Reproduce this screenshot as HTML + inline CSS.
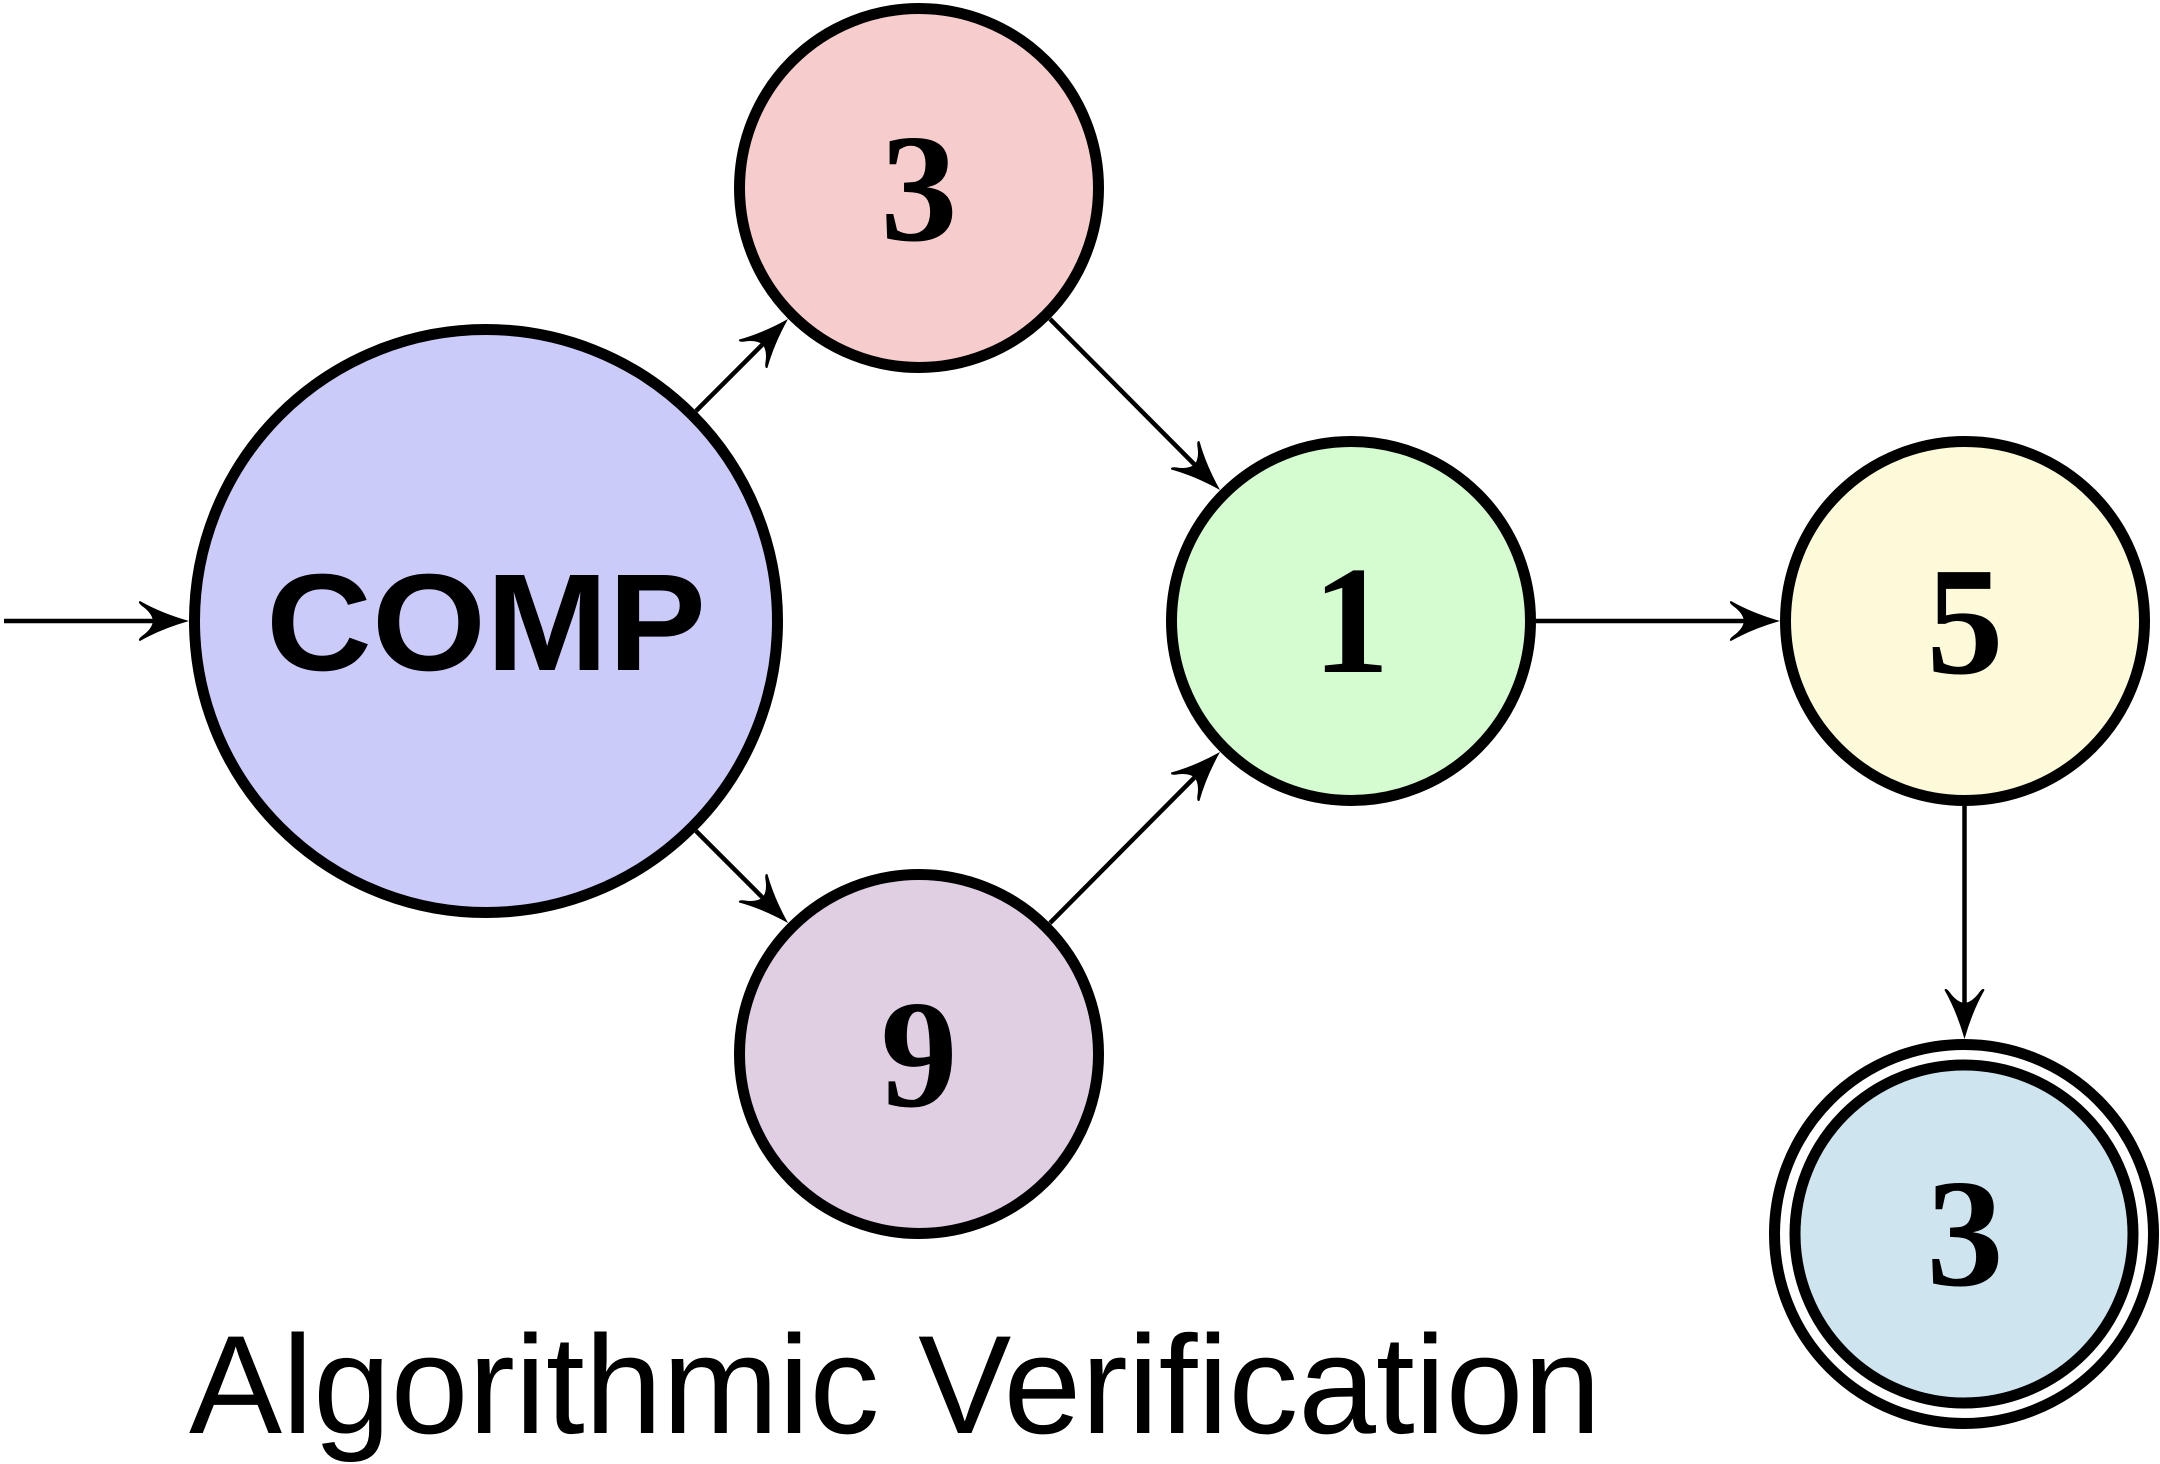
<!DOCTYPE html>
<html>
<head>
<meta charset="utf-8">
<style>
  html, body { margin: 0; padding: 0; background: #ffffff; }
  body { width: 2160px; height: 1464px; overflow: hidden; }
  svg { display: block; }
</style>
</head>
<body>
<svg xmlns="http://www.w3.org/2000/svg" width="2160" height="1464" viewBox="0 0 2160 1464">
  <defs>
    <path id="ah" d="M 0 0 Q -28 -8 -49 -20 Q -52 -19 -47 -15 Q -37 -8 -36 0 Q -37 8 -47 15 Q -52 19 -49 20 Q -28 8 0 0 Z" fill="#000"/>
  </defs>
  <rect width="2160" height="1464" fill="#ffffff"/>

  <!-- connector lines -->
  <g stroke="#000" stroke-width="4.5" fill="none">
    <line x1="4" y1="621" x2="155" y2="621"/>
    <line x1="696" y1="411" x2="763" y2="344"/>
    <line x1="696" y1="831" x2="763" y2="898"/>
    <line x1="1050" y1="319" x2="1195" y2="465"/>
    <line x1="1050" y1="923" x2="1195" y2="777"/>
    <line x1="1536" y1="621" x2="1746" y2="621"/>
    <line x1="1964.5" y1="806" x2="1964.5" y2="1005"/>
  </g>

  <!-- arrowheads -->
  <use href="#ah" transform="translate(189,621)"/>
  <use href="#ah" transform="translate(788,319) rotate(-45)"/>
  <use href="#ah" transform="translate(788,923) rotate(45)"/>
  <use href="#ah" transform="translate(1220,490) rotate(45)"/>
  <use href="#ah" transform="translate(1220,752) rotate(-45)"/>
  <use href="#ah" transform="translate(1780,621)"/>
  <use href="#ah" transform="translate(1964.5,1039) rotate(90)"/>

  <!-- nodes -->
  <g stroke="#000" stroke-width="11">
    <circle cx="486" cy="621" r="291.5" fill="#cbcbf9"/>
    <circle cx="919" cy="188" r="179.5" fill="#f6cccd"/>
    <circle cx="919" cy="1054" r="179.5" fill="#e0cfe3"/>
    <circle cx="1351" cy="621" r="179.5" fill="#d5fcd0"/>
    <circle cx="1965" cy="621" r="179.5" fill="#fdfada"/>
    <circle cx="1964" cy="1234" r="189.5" fill="#ffffff"/>
    <circle cx="1964" cy="1234" r="169" fill="#cee5ef"/>
  </g>

  <!-- labels -->
  <text x="486" y="670" font-family="'Liberation Sans', sans-serif" font-weight="bold" font-size="138" text-anchor="middle" textLength="440" lengthAdjust="spacingAndGlyphs" fill="#000">COMP</text>
  <g font-family="'Liberation Serif', serif" font-weight="bold" font-size="154" text-anchor="middle" fill="#000">
    <text x="919" y="240">3</text>
    <text x="919" y="1106">9</text>
    <text x="1351" y="672">1</text>
    <text x="1965" y="673">5</text>
    <text x="1965" y="1285">3</text>
  </g>

  <text x="189" y="1433" font-family="'Liberation Sans', sans-serif" font-size="140" textLength="1412" lengthAdjust="spacingAndGlyphs" fill="#000">Algorithmic Verification</text>
</svg>
</body>
</html>
